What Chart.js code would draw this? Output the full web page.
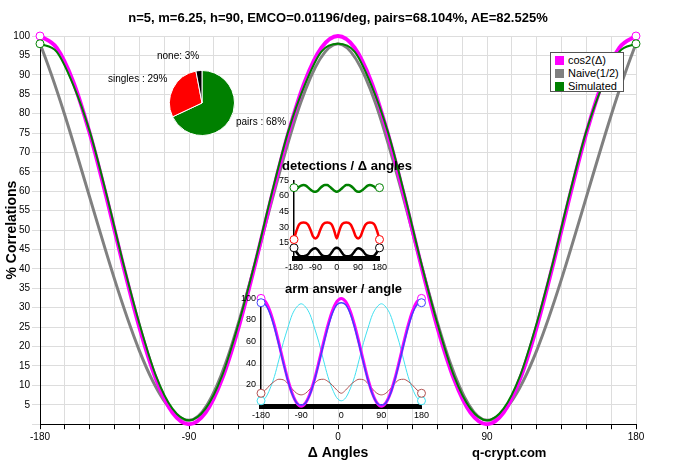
<!DOCTYPE html>
<html><head><meta charset="utf-8">
<script src="https://cdn.jsdelivr.net/npm/chart.js@4/dist/chart.umd.min.js"></script>
<style>
body{margin:0;background:#fff;font-family:Arial,"Liberation Sans",sans-serif}
#wrap{position:relative;width:676px;height:462px}
canvas{position:absolute}
.t{position:absolute;font-weight:bold;font-size:13px;color:#000;white-space:nowrap}
#legend{position:absolute;left:550px;top:52px;width:74px;height:40px;border:1px solid #555;background:#fff;font-size:11px;padding:1px 0 0 4px;box-sizing:border-box}
#legend div{line-height:13px}
#legend span{display:inline-block;width:9px;height:9px;margin-right:4px;vertical-align:-1px}
</style></head>
<body><div id="wrap">
<canvas id="main" width="676" height="462"></canvas>
<div class="t" style="left:0;width:676px;text-align:center;top:10px">n=5, m=6.25, h=90, EMCO=0.01196/deg, pairs=68.104%, AE=82.525%</div>
<div class="t" style="left:472px;top:445px">q-crypt.com</div>
<canvas id="pie" width="240" height="120" style="left:90px;top:45px"></canvas>
<div class="t" style="left:282px;top:158px">detections / Δ angles</div>
<canvas id="det" width="110" height="100" style="left:278px;top:174px"></canvas>
<div class="t" style="left:285px;top:281px">arm answer / angle</div>
<canvas id="arm" width="190" height="130" style="left:240px;top:292px"></canvas>
<div id="legend">
<div><span style="background:#ff00ff"></span>cos2(Δ)</div>
<div><span style="background:#808080"></span>Naive(1/2)</div>
<div><span style="background:#008000"></span>Simulated</div>
</div>
</div>
<script>
const angles = [-180,-170,-160,-150,-140,-130,-120,-110,-100,-90,-80,-70,-60,-50,-40,-30,-20,-10,0,10,20,30,40,50,60,70,80,90,100,110,120,130,140,150,160,170,180];
const cosSq = [100,97,88.3,75,58.7,41.3,25,11.7,3,0,3,11.7,25,41.3,58.7,75,88.3,97,100,97,88.3,75,58.7,41.3,25,11.7,3,0,3,11.7,25,41.3,58.7,75,88.3,97,100];
const simulated = [98,96,87.5,75.5,59.5,42,26,12.5,4,1,4,12.5,26,42,59.5,75.5,87.5,96,98,96,87.5,75.5,59.5,42,26,12.5,4,1,4,12.5,26,42,59.5,75.5,87.5,96,98];
const naiveX = [-180,-90,0,90,180];
const naiveY = [98,1,98,1,98];

const pieLabels = ["pairs : 68%","singles : 29%","none: 3%"];
const pieValues = [68,29,3];

const detPairs = [68,67,68.5,70,70.5,70,68,66,64.5,64,65,67.5,69.5,70.5,70.5,69,67,65,64,65,67,69,70.5,70.5,69.5,67.5,65,64,64.5,66,68,70,70.5,70,68.5,67,68];
const detSingles = [18,26,32,34,34.5,34,32,27,21,19,21,27,32,34,34.5,34,32,26,19,26,32,34,34.5,34,32,27,21,19,21,27,32,34,34.5,34,32,26,18];
const detNone = [10,6,3,2,2,2.5,4,7,9,9.5,8,5,2.5,2,2,3,6,9,10,9,6,3,2,2,2.5,5,8,9.5,9,7,4,2.5,2,2,3,6,10];

const armCos = cosSq;
const armBlue = [96,94,86,73,57,40,24,11,3,1,3,11,24,40,57,73,86,94,96,94,86,73,57,40,24,11,3,1,3,11,24,40,57,73,86,94,96];
const armCyan = [5,7.8,16,27.5,43,59,72.5,85,92,95,92,85,72.5,59,43,27.5,16,7.8,5,7.8,16,27.5,43,59,72.5,85,92,95,92,85,72.5,59,43,27.5,16,7.8,5];
const armBrown = [12,15,19.5,23,25,24.5,21,16,12,10.5,12,16,21,24.5,25,23,19.5,15,12,15,19.5,23,25,24.5,21,16,12,10.5,12,16,21,24.5,25,23,19.5,15,12];

const pts = a => a.map((y,i) => ({x: angles[i], y}));
const ends = n => Array.from({length:n}, (_,i) => (i===0||i===n-1) ? 4 : 0);
function line(data, color, width, endR, tension) {
  return {data, borderColor: color, borderWidth: width, pointRadius: endR===false ? 0 : ends(data.length),
    pointBackgroundColor: "#fff", pointBorderColor: color, pointBorderWidth: 1,
    tension: tension === undefined ? 0.4 : tension, cubicInterpolationMode: "monotone", fill: false, clip: false};
}

new Chart(document.getElementById("main"), {
  type: "line",
  data: {datasets: [
    line(pts(simulated), "#008000", 2),
    line(pts(cosSq), "#ff00ff", 4),
    line(naiveX.map((x,i)=>({x, y: naiveY[i]})), "#808080", 3, false, 0)
  ]},
  options: {
    responsive: false, animation: false,
    layout: {padding: {top: 36, right: 40, left: 4, bottom: 0}},
    plugins: {legend: {display: false}, tooltip: {enabled: false}},
    scales: {
      x: {type: "linear", min: -180, max: 180,
        ticks: {stepSize: 15, autoSkip: false, maxRotation: 0, color: "#000", font: {size: 10}, padding: 2,
          callback: v => v % 90 === 0 ? v : ""},
        grid: {color: "#ddd", tickColor: "#000", tickLength: 5},
        border: {color: "#000"},
        title: {display: true, text: "Δ Angles", color: "#000", font: {size: 14, weight: "bold"}, padding: 0}},
      y: {min: 0, max: 100,
        afterFit: s => { s.width = 36; },
        ticks: {stepSize: 5, color: "#000", font: {size: 10}, padding: 2, callback: v => v === 0 ? "" : v},
        grid: {color: "#ddd"},
        border: {color: "#000"},
        title: {display: true, text: "% Correlations", color: "#000", font: {size: 14, weight: "bold"}, padding: 0}}
    }
  }
});

const pieLabelPlugin = {
  id: "pieLabels",
  afterDraw(chart) {
    const ctx = chart.ctx;
    ctx.save();
    ctx.font = "10px Arial";
    ctx.fillStyle = "#000";
    const pos = [[146,80],[18,37],[67,14]];
    pieLabels.forEach((t,i) => ctx.fillText(t, pos[i][0], pos[i][1]));
    ctx.restore();
  }
};
new Chart(document.getElementById("pie"), {
  type: "pie",
  data: {labels: pieLabels, datasets: [{data: pieValues, backgroundColor: ["#008000","#ff0000","#000"], borderColor: "#fff", borderWidth: 1}]},
  options: {responsive: false, animation: false, layout: {padding: {left: 79, right: 95, top: 25, bottom: 29}},
    plugins: {legend: {display: false}, tooltip: {enabled: false}}},
  plugins: [pieLabelPlugin]
});

function insetOpts(yMin, yMax, yStep) {
  return {
    responsive: false, animation: false,
    layout: {padding: {right: 6, top: 4}},
    plugins: {legend: {display: false}, tooltip: {enabled: false}},
    scales: {
      x: {type: "linear", min: -180, max: 180,
        ticks: {stepSize: 90, maxRotation: 0, color: "#000", font: {size: 9}, padding: 1},
        grid: {display: false, tickColor: "#000", tickLength: 3}, border: {color: "#000", width: 5}},
      y: {min: yMin, max: yMax,
        ticks: {stepSize: yStep, color: "#000", font: {size: 9}, padding: 1, callback: v => v === 0 ? "" : v},
        grid: {display: false, tickColor: "#000", tickLength: 4}, border: {color: "#000", width: 1.5}}
    }
  };
}
new Chart(document.getElementById("det"), {
  type: "line",
  data: {datasets: [line(pts(detPairs), "#008000", 2.5), line(pts(detSingles), "#ff0000", 2.5), line(pts(detNone), "#000", 2.5)]},
  options: insetOpts(0, 75, 15)
});
new Chart(document.getElementById("arm"), {
  type: "line",
  data: {datasets: [line(pts(armBlue), "#4040ff", 1.5), line(pts(armCos), "#ff00ff", 3),
    line(pts(armBrown), "#b05050", 1), line(pts(armCyan), "#40e0f0", 1)]},
  options: insetOpts(0, 100, 20)
});
</script>
</body></html>
